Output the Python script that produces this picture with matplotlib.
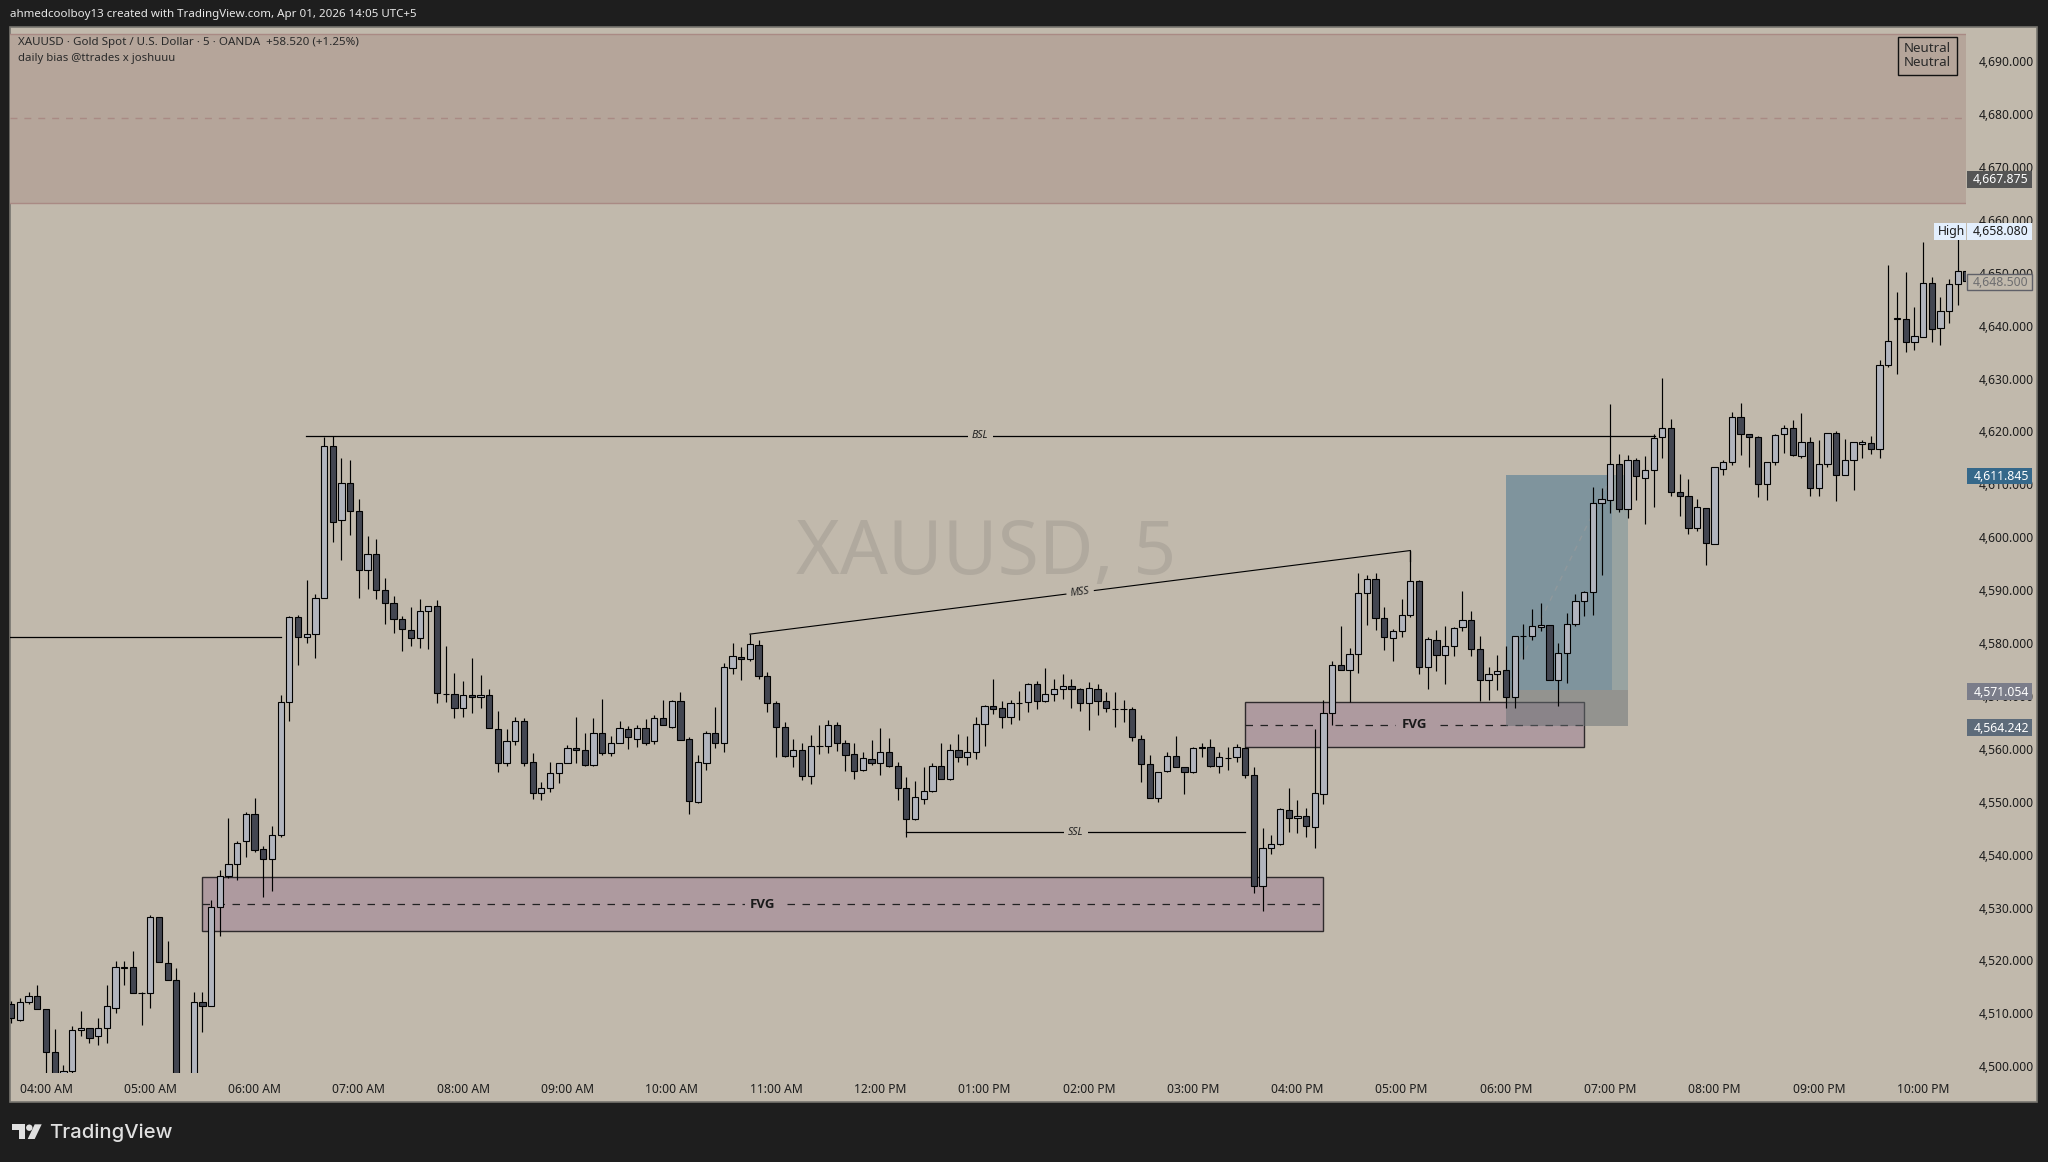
import numpy as np
import matplotlib
matplotlib.use("Agg")
import matplotlib.pyplot as plt
from matplotlib.patches import Rectangle, Polygon, Circle
from matplotlib.ticker import FuncFormatter
from matplotlib.transforms import blended_transform_factory

plt.rcParams['font.family'] = ['Noto Sans', 'DejaVu Sans']

# 5 minute bars, the first one sits four bars before the 04:00 AM tick
first_bar = -4
opens = [
    4511.7, 4508.8, 4512.1, 4513.2, 4510.8, 4502.7, 4496.0, 4499.1, 4506.8, 4507.3,
    4505.7, 4507.2, 4511.1, 4518.6, 4518.7, 4513.9, 4513.8, 4528.3, 4519.6, 4516.4,
    4490.0, 4495.0, 4512.2, 4511.4, 4530.2, 4535.9, 4538.2, 4542.6, 4547.6, 4541.0,
    4539.1, 4543.8, 4568.8, 4584.9, 4581.1, 4581.7, 4588.6, 4617.3, 4603.2, 4610.2,
    4604.9, 4593.9, 4596.8, 4590.0, 4587.5, 4584.5, 4582.4, 4580.9, 4586.0, 4587.1,
    4570.4, 4570.3, 4567.7, 4570.1, 4569.8, 4570.1, 4563.7, 4557.4, 4561.4, 4565.2,
    4557.5, 4551.6, 4552.7, 4555.4, 4557.3, 4560.1, 4559.7, 4557.0, 4563.1, 4559.3,
    4561.2, 4563.7, 4561.8, 4563.9, 4561.4, 4565.8, 4564.2, 4569.0, 4561.8, 4550.0,
    4557.4, 4563.1, 4561.2, 4575.2, 4577.3, 4576.9, 4579.6, 4573.7, 4568.6, 4564.1,
    4558.6, 4559.7, 4554.8, 4560.5, 4560.5, 4564.5, 4561.1, 4559.0, 4556.1, 4558.0,
    4557.3, 4559.5, 4556.7, 4552.6, 4546.7, 4550.5, 4552.0, 4556.7, 4554.4, 4559.7,
    4558.4, 4559.5, 4564.7, 4568.1, 4567.7, 4566.0, 4568.7, 4568.8, 4572.2, 4569.0,
    4570.3, 4571.3, 4571.8, 4571.3, 4568.6, 4571.3, 4569.0, 4567.6, 4567.5, 4567.5,
    4561.8, 4557.1, 4550.8, 4555.8, 4558.6, 4556.5, 4555.6, 4560.3, 4560.3, 4556.7,
    4558.3, 4558.4, 4560.1, 4555.0, 4534.0, 4541.2, 4542.0, 4548.4, 4546.9, 4547.4,
    4545.2, 4551.4, 4566.7, 4575.8, 4575.0, 4577.9, 4589.4, 4592.1, 4584.7, 4580.9,
    4582.2, 4585.3, 4591.7, 4575.4, 4580.5, 4577.7, 4579.4, 4583.0, 4584.3, 4578.8,
    4573.0, 4574.1, 4574.9, 4569.9, 4581.3, 4581.3, 4583.0, 4583.4, 4573.0, 4578.1,
    4583.7, 4587.9, 4589.6, 4606.4, 4607.0, 4613.8, 4605.3, 4614.7, 4611.3, 4612.7,
    4618.9, 4620.6, 4608.5, 4607.9, 4601.7, 4605.5, 4598.7, 4613.0, 4614.2, 4622.7,
    4619.5, 4618.9, 4610.0, 4614.2, 4619.5, 4620.6, 4615.3, 4618.0, 4609.4, 4613.8,
    4619.7, 4611.7, 4614.6, 4617.6, 4617.8, 4616.6, 4632.5, 4641.3, 4641.2, 4637.0,
    4637.8, 4648.0, 4639.5, 4642.7, 4647.8, 4650.3,
]
highs = [
    4512.3, 4512.9, 4514.0, 4515.4, 4510.8, 4507.1, 4500.3, 4507.6, 4510.4, 4507.3,
    4509.1, 4515.4, 4519.9, 4519.9, 4521.8, 4514.1, 4528.6, 4528.3, 4523.6, 4518.6,
    4495.0, 4514.0, 4514.0, 4531.4, 4537.1, 4546.9, 4542.5, 4548.0, 4550.7, 4541.6,
    4545.4, 4570.2, 4585.2, 4585.4, 4591.9, 4589.2, 4618.9, 4619.1, 4615.0, 4614.7,
    4607.3, 4600.3, 4599.6, 4592.4, 4588.9, 4585.1, 4586.8, 4588.3, 4587.1, 4588.1,
    4579.5, 4574.3, 4572.9, 4577.2, 4574.0, 4571.4, 4567.1, 4563.7, 4566.0, 4565.8,
    4559.2, 4553.8, 4557.5, 4557.3, 4560.7, 4566.0, 4563.0, 4565.8, 4569.4, 4562.4,
    4565.2, 4564.3, 4564.5, 4565.6, 4566.5, 4569.3, 4569.3, 4570.7, 4562.2, 4558.9,
    4563.4, 4567.9, 4576.2, 4580.0, 4579.3, 4581.7, 4580.5, 4574.5, 4569.0, 4565.1,
    4561.8, 4561.2, 4562.6, 4564.5, 4565.4, 4565.0, 4561.6, 4561.1, 4559.4, 4561.6,
    4563.9, 4562.0, 4557.5, 4554.6, 4553.9, 4556.5, 4557.3, 4561.2, 4560.9, 4562.8,
    4562.4, 4566.0, 4568.3, 4573.3, 4569.1, 4569.2, 4570.9, 4572.4, 4572.8, 4575.3,
    4573.3, 4574.1, 4573.2, 4571.6, 4572.6, 4572.2, 4570.7, 4570.7, 4569.2, 4567.9,
    4562.6, 4558.9, 4555.7, 4559.4, 4562.4, 4556.5, 4560.3, 4561.2, 4561.8, 4559.4,
    4560.4, 4560.9, 4560.4, 4556.5, 4545.0, 4543.7, 4548.8, 4552.7, 4550.3, 4548.8,
    4563.7, 4569.2, 4576.7, 4583.2, 4579.0, 4593.3, 4592.8, 4593.3, 4586.8, 4582.6,
    4588.3, 4597.5, 4592.0, 4581.1, 4582.5, 4583.2, 4583.0, 4589.8, 4586.0, 4581.3,
    4575.4, 4577.7, 4579.5, 4581.3, 4583.6, 4586.4, 4587.5, 4583.5, 4580.0, 4585.6,
    4589.2, 4589.8, 4609.5, 4609.3, 4625.2, 4615.8, 4615.6, 4614.9, 4615.3, 4619.5,
    4630.2, 4622.4, 4611.9, 4611.0, 4607.2, 4605.5, 4613.2, 4614.6, 4623.6, 4625.3,
    4619.5, 4619.1, 4614.2, 4619.5, 4621.2, 4622.2, 4623.5, 4618.9, 4618.4, 4619.7,
    4620.0, 4618.6, 4618.0, 4618.3, 4619.1, 4633.5, 4651.5, 4646.4, 4650.1, 4643.5,
    4655.8, 4649.3, 4645.4, 4648.8, 4658.08, 4650.3,
]
lows = [
    4508.1, 4508.6, 4511.8, 4510.9, 4498.8, 4496.0, 4495.0, 4498.6, 4505.8, 4504.4,
    4504.1, 4504.4, 4510.0, 4515.4, 4513.8, 4507.9, 4511.0, 4519.7, 4516.3, 4493.0,
    4488.0, 4494.0, 4506.4, 4511.4, 4524.7, 4535.6, 4535.3, 4539.6, 4540.5, 4532.0,
    4533.2, 4543.4, 4565.2, 4575.8, 4580.0, 4577.2, 4588.6, 4599.2, 4595.8, 4600.4,
    4588.6, 4590.2, 4588.4, 4583.7, 4582.0, 4578.6, 4579.4, 4579.1, 4578.8, 4568.6,
    4568.9, 4565.8, 4566.1, 4566.8, 4567.8, 4563.9, 4555.7, 4556.8, 4560.8, 4556.8,
    4550.6, 4550.3, 4551.9, 4553.6, 4557.3, 4557.3, 4556.8, 4556.8, 4558.9, 4558.7,
    4561.1, 4560.0, 4560.4, 4560.8, 4561.0, 4564.6, 4564.0, 4561.6, 4547.7, 4549.8,
    4556.0, 4560.2, 4559.4, 4574.2, 4573.0, 4576.7, 4573.2, 4567.0, 4558.5, 4558.5,
    4556.6, 4554.1, 4553.4, 4559.0, 4559.2, 4559.6, 4555.8, 4554.3, 4555.8, 4557.0,
    4555.1, 4556.5, 4550.3, 4543.4, 4546.6, 4549.6, 4551.9, 4554.4, 4554.2, 4557.5,
    4557.0, 4558.1, 4560.6, 4566.6, 4564.0, 4564.8, 4565.5, 4567.0, 4567.5, 4568.9,
    4569.1, 4569.4, 4567.8, 4567.2, 4563.5, 4566.4, 4567.0, 4564.2, 4565.1, 4561.4,
    4553.7, 4550.8, 4550.0, 4555.6, 4556.5, 4551.5, 4555.4, 4558.5, 4556.6, 4555.5,
    4556.0, 4557.6, 4554.5, 4532.8, 4529.4, 4540.2, 4541.9, 4544.3, 4544.1, 4543.4,
    4541.3, 4549.6, 4564.6, 4575.0, 4568.8, 4574.4, 4583.5, 4582.5, 4578.7, 4576.6,
    4581.2, 4584.9, 4574.2, 4571.3, 4574.7, 4572.3, 4577.6, 4582.3, 4577.6, 4569.1,
    4569.2, 4571.1, 4567.8, 4567.8, 4577.0, 4580.6, 4582.2, 4573.0, 4568.1, 4572.5,
    4583.3, 4585.1, 4585.3, 4592.9, 4604.5, 4604.7, 4603.7, 4607.1, 4602.6, 4605.8,
    4614.9, 4607.9, 4604.1, 4600.7, 4601.1, 4594.8, 4598.7, 4611.8, 4613.7, 4615.6,
    4613.2, 4607.7, 4607.1, 4613.7, 4615.9, 4615.4, 4614.9, 4607.9, 4607.9, 4613.2,
    4606.9, 4611.7, 4609.0, 4614.9, 4615.8, 4614.9, 4632.1, 4630.9, 4635.1, 4635.5,
    4637.8, 4637.0, 4636.4, 4640.6, 4644.0, 4648.3,
]
closes = [
    4509.1, 4512.1, 4513.2, 4510.9, 4502.7, 4497.5, 4499.1, 4506.8, 4507.3, 4505.4,
    4507.2, 4511.4, 4518.7, 4518.7, 4513.8, 4513.8, 4528.3, 4519.7, 4516.3, 4495.0,
    4493.0, 4512.2, 4511.4, 4530.2, 4535.9, 4538.3, 4542.3, 4547.6, 4540.9, 4539.1,
    4543.8, 4568.8, 4584.9, 4581.1, 4581.7, 4588.6, 4617.3, 4602.8, 4610.2, 4604.9,
    4593.9, 4596.8, 4590.0, 4587.5, 4584.5, 4582.6, 4580.9, 4586.0, 4587.1, 4570.5,
    4570.3, 4567.7, 4570.1, 4569.8, 4570.1, 4563.9, 4557.4, 4561.4, 4565.2, 4557.4,
    4551.6, 4552.7, 4555.4, 4557.3, 4560.1, 4559.7, 4557.0, 4563.1, 4559.3, 4561.2,
    4563.9, 4562.2, 4563.9, 4561.2, 4565.8, 4564.6, 4569.0, 4561.6, 4550.2, 4557.5,
    4563.1, 4561.2, 4575.4, 4577.5, 4576.9, 4579.8, 4573.7, 4568.6, 4564.1, 4558.6,
    4559.7, 4554.8, 4560.5, 4560.5, 4564.5, 4561.1, 4558.8, 4555.9, 4558.2, 4557.3,
    4559.5, 4556.7, 4552.6, 4546.7, 4550.9, 4552.0, 4556.7, 4554.4, 4559.7, 4558.4,
    4559.5, 4564.7, 4568.2, 4567.5, 4566.0, 4568.6, 4568.6, 4572.2, 4569.0, 4570.3,
    4571.3, 4571.8, 4571.3, 4568.6, 4571.5, 4569.0, 4567.7, 4567.5, 4567.5, 4562.2,
    4557.1, 4550.8, 4555.6, 4558.6, 4556.5, 4555.6, 4560.1, 4560.2, 4556.7, 4558.4,
    4558.2, 4560.3, 4555.0, 4534.0, 4541.2, 4542.0, 4548.6, 4546.9, 4547.4, 4545.4,
    4551.6, 4566.7, 4575.8, 4575.0, 4577.9, 4589.4, 4592.1, 4584.7, 4581.1, 4582.2,
    4585.3, 4591.7, 4575.4, 4580.7, 4577.7, 4579.4, 4582.8, 4584.3, 4578.8, 4573.0,
    4574.1, 4574.7, 4569.9, 4581.3, 4581.3, 4583.2, 4583.5, 4573.0, 4578.1, 4583.7,
    4587.9, 4589.6, 4606.4, 4607.2, 4613.8, 4605.3, 4614.7, 4611.5, 4612.7, 4618.7,
    4620.6, 4608.5, 4607.9, 4601.7, 4605.7, 4598.9, 4613.2, 4614.2, 4622.7, 4619.5,
    4618.9, 4610.0, 4614.2, 4619.3, 4620.6, 4615.5, 4618.0, 4609.3, 4613.8, 4619.7,
    4611.7, 4614.6, 4618.0, 4618.0, 4616.6, 4632.5, 4637.2, 4641.4, 4637.0, 4638.0,
    4648.0, 4639.3, 4642.7, 4647.8, 4650.3, 4648.5,
]

time_labels = ["04:00 AM", "05:00 AM", "06:00 AM", "07:00 AM", "08:00 AM", "09:00 AM",
               "10:00 AM", "11:00 AM", "12:00 PM", "01:00 PM", "02:00 PM", "03:00 PM",
               "04:00 PM", "05:00 PM", "06:00 PM", "07:00 PM", "08:00 PM", "09:00 PM",
               "10:00 PM"]
price_ticks = list(range(4500, 4700, 10))

# bias zone on top of the chart
zone_top, zone_mid, zone_bottom = 4695.2, 4679.2, 4663.2
# drawn levels
level_left = 4581.2
bsl_price = 4619.2
ssl_price = 4544.2
mss_from, mss_to = 4581.7, 4597.5
fvg_low = (4535.7, 4530.6, 4525.5)
fvg_high = (4568.8, 4564.6, 4560.3)
trade_target, trade_entry, trade_stop = 4611.845, 4571.054, 4564.242

BG = "#1e1e1e"
PANE = "#c1b9ac"
UP = "#b2b5be"
DOWN = "#434651"
FVG_FILL = "#ae9a9f"
FVG_EDGE = "#2e2a2c"

W, H = 2048, 1162
fig = plt.figure(figsize=(W / 100, H / 100), dpi=100, facecolor=BG)

# pixel canvas behind the price axes, for the frame and watermark
back = fig.add_axes([0, 0, 1, 1], zorder=0)
back.set_xlim(0, W)
back.set_ylim(H, 0)
back.axis("off")
back.add_patch(Rectangle((10, 27), 2027, 1075, facecolor=PANE, edgecolor="#77756f", lw=1.2))

back.text(10, 15, "ahmedcoolboy13 created with TradingView.com, Apr 01, 2026 14:05 UTC+5",
          color="#e8e8e8", fontsize=8.3, va="center")
back.text(986, 555, "XAUUSD, 5", color="#b0a99e", fontsize=54, ha="center", va="center")

# TradingView logo
logo = "#e0e0e0"
back.add_patch(Polygon([(12, 1124.3), (25, 1124.3), (25, 1139), (19, 1139), (19, 1130.3), (12, 1130.3)],
                       facecolor=logo, edgecolor="none"))
back.add_patch(Circle((29.3, 1127.7), 3.2, facecolor=logo, edgecolor="none"))
back.add_patch(Polygon([(34.7, 1124.3), (41.7, 1124.3), (34.7, 1139), (27.7, 1139)], facecolor=logo, edgecolor="none"))
back.text(49, 1133, "TradingView", color=logo, fontsize=14.6, family=["Inter", "DejaVu Sans"],
          weight="medium", va="center")

ax = fig.add_axes([10 / W, 1 - 1073 / H, 1956 / W, 1046 / H], zorder=1)
ax.patch.set_alpha(0)
for side in ax.spines.values():
    side.set_visible(False)

bars = np.arange(len(opens)) + first_bar
o = np.array(opens)
c = np.array(closes)
rising = c >= o

# fair value gaps, with their mid line and label
for zone, x0, x1, lab_x in [(fvg_low, 18, 147, 82.5), (fvg_high, 138, 177, 157.5)]:
    top, mid, bot = zone
    ax.add_patch(Rectangle((x0, bot), x1 - x0, top - bot, facecolor=FVG_FILL, edgecolor=FVG_EDGE, lw=1, zorder=1))
    ax.plot([x0, x1], [mid, mid], color="#222", lw=0.9, ls=(0, (6, 6)), zorder=1.1)
    ax.text(lab_x, mid, "FVG", fontsize=9.5, weight="bold", family=["Open Sans", "DejaVu Sans"], color="#1a1a1a",
            ha="center", va="center", zorder=1.2, bbox=dict(facecolor=FVG_FILL, edgecolor="none", pad=4))

# long position box
ax.add_patch(Rectangle((168, trade_entry), 14.1, trade_target - trade_entry, facecolor="#98a3a1", edgecolor="none", zorder=1.3))
ax.add_patch(Rectangle((168, trade_entry), 12.2, trade_target - trade_entry, facecolor="#7f949d", edgecolor="none", zorder=1.4))
ax.add_patch(Rectangle((168, trade_stop), 14.1, trade_entry - trade_stop, facecolor="#676f74", alpha=0.5, edgecolor="none", zorder=1.4))
ax.plot([168, 180.2], [trade_entry, trade_target], color="#8f989c", lw=1, ls=(0, (4, 4)), zorder=1.5)

# bias zone
ax.axhspan(zone_bottom, zone_top, facecolor="#b5a59a", edgecolor="none", zorder=0.5)
for level in (zone_top, zone_bottom):
    ax.axhline(level, color="#a98a84", lw=1, zorder=0.6)
ax.axhline(zone_mid, color="#a98a84", lw=1, ls=(0, (5, 5)), zorder=0.6)

# candles
ax.vlines(bars, lows, highs, color="black", lw=0.85, zorder=2)
ax.bar(bars, c - o, bottom=o, width=0.72, color=np.where(rising, UP, DOWN).tolist(),
       edgecolor="black", linewidth=0.8, zorder=3)

# liquidity lines
ax.plot([-5, 27], [level_left, level_left], color="black", lw=0.9, zorder=4)
ax.plot([29.9, 185.1], [bsl_price, bsl_price], color="black", lw=0.9, zorder=4)
ax.plot([99, 138], [ssl_price, ssl_price], color="black", lw=0.9, zorder=4)
ax.plot([81, 157], [mss_from, mss_to], color="black", lw=0.8, zorder=4)
ax.plot([157, 157], [mss_to, mss_to - 2], color="black", lw=0.9, zorder=4)
label_box = dict(facecolor=PANE, edgecolor="none", pad=3)
ax.text(107.5, bsl_price, "BSL", fontsize=7.5, style="italic", color="#222", ha="center", va="center", zorder=5, bbox=label_box)
ax.text(118.5, ssl_price, "SSL", fontsize=7.5, style="italic", color="#222", ha="center", va="center", zorder=5, bbox=label_box)
ax.text(119, (mss_from + mss_to) / 2, "MSS", fontsize=7.5, style="italic", color="#222", ha="center", va="center",
        rotation=7.2, rotation_mode="anchor", zorder=5, bbox=label_box)

ax.set_xticks(np.arange(len(time_labels)) * 12)
ax.set_xticklabels(time_labels)
ax.set_yticks(price_ticks)
ax.yaxis.set_major_formatter(FuncFormatter(lambda v, _: f"{v:,.3f}"))
ax.yaxis.tick_right()
ax.tick_params(axis="both", length=0, labelsize=8.7, labelcolor="#1c1c1c")
ax.tick_params(axis="x", pad=7)
ax.tick_params(axis="y", pad=9)
ax.set_xlim(-4.143, 220.94)
ax.set_ylim(4600 + (537.3 - 1073) / 5.29, 4600 + (537.3 - 27) / 5.29)

# price tags on the scale, x in canvas pixels and y in price
tag_tf = blended_transform_factory(back.transData, ax.transData)


def price_tag(price, bg, fg, edge="none", x0=1967, x1=2032, text=None):
    label = text if text else f"{price:,.3f}"
    ax.add_patch(Rectangle((x0, price - 1.83), x1 - x0, 3.16, transform=tag_tf, facecolor=bg, edgecolor=edge,
                           lw=1, clip_on=False, zorder=8))
    ax.text((x0 + x1) / 2 + 1.5, price - 0.3, label, transform=tag_tf, color=fg, fontsize=8.8, ha="center", va="center",
            clip_on=False, zorder=9, weight="medium")


price_tag(4667.875, "#555555", "white")
price_tag(4658.08, "#e3effd", "#1c1c1c")
price_tag(4658.08, "#e3effd", "#1c1c1c", x0=1934, x1=1966, text="High")
price_tag(4648.5, PANE, "#6e6e70", edge="#5f6068")
price_tag(trade_target, "#35688a", "white")
price_tag(trade_entry, "#7b7d8a", "white")
price_tag(trade_stop, "#5d6b7a", "white")

# legend and status box, in canvas pixels
ax.text(18, 42, "XAUUSD · Gold Spot / U.S. Dollar · 5 · OANDA  +58.520 (+1.25%)", transform=back.transData,
        color="#2a2a2a", fontsize=8.35, va="center", clip_on=False, zorder=9)
ax.text(18, 59, "daily bias @ttrades x joshuuu", transform=back.transData,
        color="#2a2a2a", fontsize=8.2, va="center", clip_on=False, zorder=9)
ax.add_patch(Rectangle((1898, 37), 59, 38, transform=back.transData, facecolor="none", edgecolor="#111", lw=1,
                       clip_on=False, zorder=9))
ax.text(1927.5, 48, "Neutral", transform=back.transData, color="#2a2a2a", fontsize=9.6, ha="center", va="center", zorder=9)
ax.text(1927.5, 62, "Neutral", transform=back.transData, color="#2a2a2a", fontsize=9.6, ha="center", va="center", zorder=9)

fig.savefig("out.png", dpi=100, facecolor=BG)
